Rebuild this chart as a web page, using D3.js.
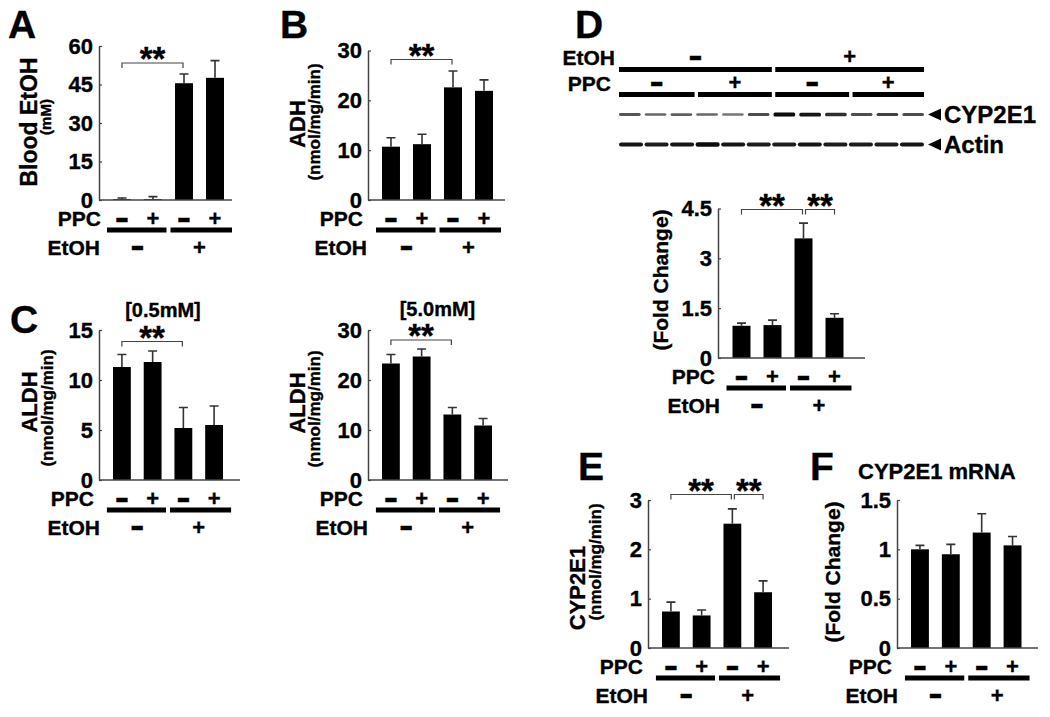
<html>
<head>
<script src="https://cdnjs.cloudflare.com/ajax/libs/d3/7.9.0/d3.min.js"></script>
<style>
  body { margin: 0; background: #fff; }
  text { font-family: 'Liberation Sans', Arial, sans-serif; font-weight: bold; fill: #000; stroke: #000; stroke-width: 0.35px; }
</style>
</head>
<body>
<svg id="fig" width="1050" height="717"></svg>
<script>
// groups: PPC -/+ within EtOH -/+
const bars = ['ppc-etoh-', 'ppc+etoh-', 'ppc-etoh+', 'ppc+etoh+']
const ppcSigns = ['-', '+', '-', '+']
const etohSigns = ['-', '+']

// A - blood ethanol (mM)
const bloodEtoh = [0.3, 0.3, 45.5, 47.6]
const bloodEtohErr = [0.5, 1.0, 3.6, 6.7]
const bloodEtohTicks = [0, 15, 30, 45, 60]

// B - ADH (nmol/mg/min)
const adh = [10.7, 11.2, 22.6, 21.9]
const adhErr = [1.8, 2.0, 3.3, 2.2]
const adhTicks = [0, 10, 20, 30]

// C - ALDH at 0.5mM and 5.0mM
const aldhLow = [11.3, 11.8, 5.2, 5.5]
const aldhLowErr = [1.25, 1.1, 2.05, 1.9]
const aldhLowTicks = [0, 5, 10, 15]
const aldhHigh = [23.3, 24.7, 13.1, 10.9]
const aldhHighErr = [1.8, 1.5, 1.4, 1.4]
const aldhHighTicks = [0, 10, 20, 30]

// D - CYP2E1 protein (fold change)
const cypProtein = [0.97, 0.99, 3.6, 1.21]
const cypProteinErr = [0.08, 0.15, 0.46, 0.12]
const cypProteinTicks = [0, 1.5, 3, 4.5]

// D - western blot band intensity per lane (0..1)
const blotEtoh = ['-', '+']
const blotPpc = ['-', '+', '-', '+']
const cypBands = [0.55, 0.45, 0.5, 0.45, 0.35, 0.6, 0.95, 0.9, 0.75, 0.6, 0.65, 0.6]
const actinBands = [0.85, 0.8, 0.85, 0.9, 0.85, 0.8, 0.8, 0.85, 0.8, 0.8, 0.8, 0.85]

// E - CYP2E1 activity (nmol/mg/min)
const cypActivity = [0.74, 0.66, 2.52, 1.13]
const cypActivityErr = [0.19, 0.11, 0.3, 0.23]
const cypActivityTicks = [0, 1, 2, 3]

// F - CYP2E1 mRNA (fold change)
const cypMrna = [1.0, 0.95, 1.17, 1.04]
const cypMrnaErr = [0.04, 0.10, 0.19, 0.09]
const cypMrnaTicks = [0, 0.5, 1, 1.5]

const svg = d3.select('#fig')
const FONT = "'Liberation Sans', Arial, sans-serif"

function panelLetter(t, x, y) {
  svg.append('text').attr('x', x).attr('y', y).attr('font-size', 39).text(t)
}

function yTitle(t, fs, x, y) {
  svg.append('text')
    .attr('transform', `translate(${x},${y}) rotate(-90)`)
    .attr('text-anchor', 'middle')
    .attr('font-size', fs)
    .text(t)
}

// +/- marks; the minus is drawn wider, like the thick dash of the figure
function sign(g, s, x, y) {
  const t = g.append('text').attr('text-anchor', 'middle').attr('font-size', 22).text(s)
  if (s === '-') t.attr('transform', `translate(${x},${y + 2.5}) scale(1.9,1.5)`)
  else t.attr('x', x).attr('y', y)
}

function barPanel(p) {
  const g = svg.append('g')
  const x = d3.scaleBand().domain(bars).range([p.bx0, p.bx1]).paddingInner(0.42).paddingOuter(0)
  const y = d3.scaleLinear().domain([0, d3.max(p.ticks)]).range([p.y0, p.yTop])
  const cx = i => x(bars[i]) + x.bandwidth() / 2

  g.selectAll('rect.bar')
    .data(p.values)
    .join('rect')
    .attr('x', (d, i) => x(bars[i]))
    .attr('width', x.bandwidth())
    .attr('y', d => y(d))
    .attr('height', d => y(0) - y(d))
    .attr('fill', '#000')

  g.selectAll('path.err')
    .data(p.values)
    .join('path')
    .attr('d', (d, i) => {
      const top = y(d + p.errs[i])
      return `M${cx(i)},${y(d)}V${top}M${cx(i) - 4.5},${top}H${cx(i) + 4.5}`
    })
    .attr('stroke', '#333')
    .attr('stroke-width', 1.6)
    .attr('fill', 'none')

  const ax = g.append('g')
    .attr('transform', `translate(${p.ax},0)`)
    .call(d3.axisLeft(y).tickValues(p.ticks).tickFormat(d => String(d))
      .tickSizeInner(-3).tickSizeOuter(0).tickPadding(6))
  ax.attr('font-size', 22).attr('font-family', FONT)
  ax.select('.domain').attr('stroke', '#444').attr('stroke-width', 1.5)
  ax.selectAll('.tick line').attr('stroke', '#444').attr('stroke-width', 1.2)

  g.append('line')
    .attr('x1', p.ax).attr('x2', p.axR)
    .attr('y1', y(0)).attr('y2', y(0))
    .attr('stroke', '#444').attr('stroke-width', 1.5)

  // significance brackets
  ;(p.sig || []).forEach(([a, b]) => {
    const x1 = cx(a) + (a === 2 ? 2 : 0)
    const x2 = cx(b) - (b === 2 ? 1 : 0)
    const by = p.bracketY
    g.append('path')
      .attr('d', `M${x1},${by + 5}V${by}H${x2}V${by + 5}`)
      .attr('stroke', '#444').attr('stroke-width', 1.2).attr('fill', 'none')
    g.append('text')
      .attr('x', (x1 + x2) / 2).attr('y', by + 7)
      .attr('text-anchor', 'middle').attr('font-size', 33)
      .text('**')
  })

  // PPC / EtOH rows
  const rowY = p.y0 + 26
  g.append('text').attr('x', p.ppcX).attr('y', rowY).attr('text-anchor', 'end').attr('font-size', 21).text('PPC')
  ppcSigns.forEach((s, i) => sign(g, s, cx(i), rowY))

  const left = cx(0) - 15
  const right = cx(3) + 17
  const mid = (cx(1) + cx(2)) / 2
  const segs = [[left, mid - 2], [mid + 2, right]]
  g.selectAll('rect.seg')
    .data(segs)
    .join('rect')
    .attr('x', d => d[0]).attr('width', d => d[1] - d[0])
    .attr('y', p.y0 + 27.5).attr('height', 5)
    .attr('fill', '#000')

  const etohY = p.y0 + 54.5
  g.append('text').attr('x', p.etohX).attr('y', etohY).attr('text-anchor', 'end').attr('font-size', 21).text('EtOH')
  etohSigns.forEach((s, i) => sign(g, s, (cx(2 * i) + cx(2 * i + 1)) / 2, etohY))
}

// ---- A
panelLetter('A', 8, 38)
yTitle('Blood EtOH', 23, 37, 122)
yTitle('(mM)', 15, 51, 117)
barPanel({ values: bloodEtoh, errs: bloodEtohErr, ticks: bloodEtohTicks,
  ax: 99, axR: 232, bx0: 113, bx1: 224, y0: 200, yTop: 46,
  ppcX: 101, etohX: 100, bracketY: 63, sig: [[0, 2]] })

// ---- B
panelLetter('B', 280, 38)
yTitle('ADH', 22, 305, 124)
yTitle('(nmol/mg/min)', 17, 320, 122)
barPanel({ values: adh, errs: adhErr, ticks: adhTicks,
  ax: 368, axR: 505, bx0: 382, bx1: 493, y0: 200, yTop: 50.5,
  ppcX: 363, etohX: 367, bracketY: 59.5, sig: [[0, 2]] })

// ---- C
panelLetter('C', 10, 333)
svg.append('text').attr('x', 163).attr('y', 317).attr('text-anchor', 'middle').attr('font-size', 20).text('[0.5mM]')
yTitle('ALDH', 22, 37, 402)
yTitle('(nmol/mg/min)', 17, 52.5, 408)
barPanel({ values: aldhLow, errs: aldhLowErr, ticks: aldhLowTicks,
  ax: 99, axR: 240, bx0: 113, bx1: 223, y0: 480, yTop: 330,
  ppcX: 94, etohX: 100, bracketY: 341.5, sig: [[0, 2]] })

svg.append('text').attr('x', 437.5).attr('y', 315.5).attr('text-anchor', 'middle').attr('font-size', 20).text('[5.0mM]')
yTitle('ALDH', 22, 305, 403)
yTitle('(nmol/mg/min)', 17, 320, 409)
barPanel({ values: aldhHigh, errs: aldhHighErr, ticks: aldhHighTicks,
  ax: 368, axR: 508, bx0: 382, bx1: 492, y0: 480, yTop: 330,
  ppcX: 363, etohX: 368, bracketY: 340, sig: [[0, 2]] })

// ---- D blot
panelLetter('D', 575, 38)
{
  const g = svg.append('g')
  const lanes = d3.scaleBand().domain(d3.range(cypBands.length)).range([619, 924]).paddingInner(0.16)
  const step = lanes.step()
  const x0 = 619, x1 = 924

  g.append('text').attr('x', 615).attr('y', 65).attr('text-anchor', 'end').attr('font-size', 21).text('EtOH')
  g.append('text').attr('x', 611).attr('y', 91).attr('text-anchor', 'end').attr('font-size', 21).text('PPC')

  const header = (signs, y0, ty) => {
    const per = cypBands.length / signs.length
    signs.forEach((s, i) => {
      const a = i === 0 ? x0 : x0 + i * per * step + 1.7
      const b = i === signs.length - 1 ? x1 : x0 + (i + 1) * per * step - 1.7
      g.append('rect').attr('x', a).attr('width', b - a).attr('y', y0).attr('height', 5).attr('fill', '#000')
      sign(g, s, (a + b) / 2, ty)
    })
  }
  header(blotEtoh, 67, 64)
  header(blotPpc, 92, 90)

  const defs = svg.append('defs')
  defs.append('filter').attr('id', 'soft').append('feGaussianBlur').attr('stdDeviation', 0.7)

  g.selectAll('rect.cyp')
    .data(cypBands)
    .join('rect')
    .attr('x', (d, i) => lanes(i)).attr('width', lanes.bandwidth())
    .attr('y', d => 114.5 - (1.5 + 2.5 * d) / 2).attr('height', d => 1.5 + 2.5 * d)
    .attr('rx', 1.5)
    .attr('fill', d => d3.interpolateGreys(0.4 + 0.6 * d))
    .attr('filter', 'url(#soft)')

  const lanesA = lanes.copy().paddingInner(0.06)
  g.selectAll('rect.actin')
    .data(actinBands)
    .join('rect')
    .attr('x', (d, i) => lanesA(i)).attr('width', lanesA.bandwidth())
    .attr('y', d => 144.5 - (2.5 + 2 * d) / 2).attr('height', d => 2.5 + 2 * d)
    .attr('rx', 2)
    .attr('fill', d => d3.interpolateGreys(0.5 + 0.5 * d))
    .attr('filter', 'url(#soft)')

  ;[['CYP2E1', 114.5], ['Actin', 144.5]].forEach(([t, cy]) => {
    g.append('path').attr('d', `M928,${cy}L941,${cy - 6}V${cy + 6}Z`).attr('fill', '#000')
    g.append('text').attr('x', 944).attr('y', cy + 8.5).attr('font-size', 24).text(t)
  })
}

// ---- D chart
yTitle('(Fold Change)', 21, 667.5, 280)
barPanel({ values: cypProtein, errs: cypProteinErr, ticks: cypProteinTicks,
  ax: 718, axR: 865, bx0: 732.5, bx1: 843.5, y0: 358, yTop: 208.5,
  ppcX: 715, etohX: 720, bracketY: 209.5, sig: [[0, 2], [2, 3]] })

// ---- E
panelLetter('E', 578, 480)
yTitle('CYP2E1', 22, 585, 588)
yTitle('(nmol/mg/min)', 17, 601, 562)
barPanel({ values: cypActivity, errs: cypActivityErr, ticks: cypActivityTicks,
  ax: 648, axR: 789, bx0: 662, bx1: 772, y0: 648, yTop: 500,
  ppcX: 643, etohX: 648, bracketY: 494.5, sig: [[0, 2], [2, 3]] })

// ---- F
panelLetter('F', 810, 480)
svg.append('text').attr('x', 858).attr('y', 479).attr('font-size', 22).text('CYP2E1 mRNA')
yTitle('(Fold Change)', 21, 839.5, 572)
barPanel({ values: cypMrna, errs: cypMrnaErr, ticks: cypMrnaTicks,
  ax: 897, axR: 1038, bx0: 911, bx1: 1021.5, y0: 648, yTop: 500,
  ppcX: 892, etohX: 898 })
</script>
</body>
</html>
